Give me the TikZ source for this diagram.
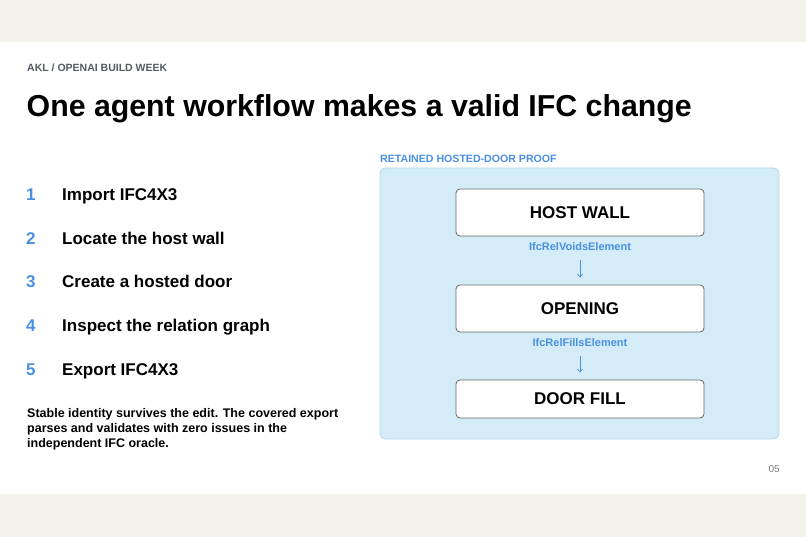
\documentclass[tikz,border=0pt]{standalone}
\usepackage{fontspec}
\setmainfont{Liberation Sans}
\usetikzlibrary{arrows.meta}
\definecolor{beige}{HTML}{F5F2EC}
\definecolor{accent}{HTML}{4A90E2}
\definecolor{panel}{HTML}{D3ECF8}
\definecolor{panelline}{HTML}{B5D9EE}
\definecolor{kicker}{HTML}{555B63}
\definecolor{boxline}{HTML}{666666}
\definecolor{pagenum}{HTML}{7A7F86}
\tikzset{
  num/.style={anchor=base west,text=accent,font=\fontsize{17}{20}\selectfont\bfseries,inner sep=0pt},
  item/.style={anchor=base west,text=black,font=\fontsize{17}{20}\selectfont\bfseries,inner sep=0pt},
  entity/.style={draw=boxline,fill=white,rounded corners=4pt,line width=0.8pt,minimum width=248pt,font=\fontsize{17}{20}\selectfont\bfseries,inner sep=0pt},
  rel/.style={text=accent,font=\fontsize{11}{13}\selectfont\bfseries,inner sep=0pt},
  flow/.style={draw=accent,line width=0.7pt,-{Straight Barb[length=3pt,width=5pt]}},
}
\begin{document}
\begin{tikzpicture}[x=1pt,y=-1pt]
\useasboundingbox (0,0) rectangle (806,537);
\fill[white] (0,0) rectangle (806,537);
\fill[beige] (0,0) rectangle (806,42);
\fill[beige] (0,494) rectangle (806,537);
\node[anchor=base west,inner sep=0pt,text=kicker,font=\fontsize{10.5}{12}\selectfont\bfseries] (kick) at (27,71.5) {AKL / OPENAI BUILD WEEK};
\node[anchor=base west,inner sep=0pt,font=\fontsize{30.3}{34}\selectfont\bfseries] (title) at (26.5,117) {One agent workflow makes a valid IFC change};
\foreach \n/\t/\y in {1/Import IFC4X3/201,2/Locate the host wall/244.5,3/Create a hosted door/288,4/Inspect the relation graph/331.5,5/Export IFC4X3/375}{
  \node[num] (n\n) at (26,\y) {\n};
  \node[item] (i\n) at (62,\y) {\t};
}
\node[anchor=north west,inner sep=0pt,align=left,font=\fontsize{12.5}{15}\selectfont\bfseries] (para) at (27,408.5) {Stable identity survives the edit. The covered export\\parses and validates with zero issues in the\\independent IFC oracle.};
\node[anchor=west,inner sep=0pt,text=accent,font=\fontsize{10.6}{12}\selectfont\bfseries] (cap) at (380,159) {RETAINED HOSTED-DOOR PROOF};
\node[draw=panelline,fill=panel,rounded corners=5pt,line width=0.8pt,minimum width=399pt,minimum height=271pt,inner sep=0pt] (panel) at (579.5,303.5) {};
\node[entity,minimum height=47pt] (wall) at (580,212.5) {HOST WALL};
\node[rel] (voids) at (580,247) {IfcRelVoidsElement};
\node[entity,minimum height=47pt] (open) at (580,308.5) {OPENING};
\node[rel] (fills) at (580,343) {IfcRelFillsElement};
\node[entity,minimum height=38pt] (door) at (580,399) {DOOR FILL};
\draw[flow,shorten <=9pt,shorten >=7pt] (voids.south) -- (open.north);
\draw[flow,shorten <=9pt,shorten >=7pt] (fills.south) -- (door.north);
\node[anchor=east,inner sep=0pt,text=pagenum,font=\fontsize{10}{12}\selectfont] (page) at (780,469) {05};
\end{tikzpicture}
\end{document}
